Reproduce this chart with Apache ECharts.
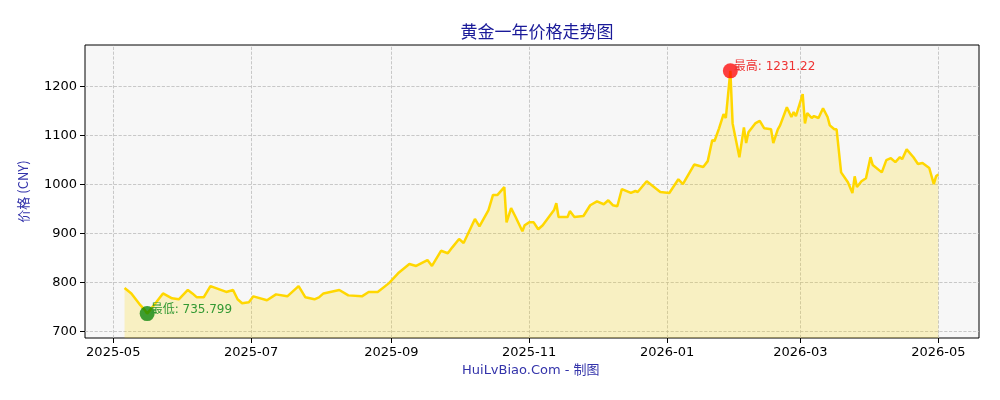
<!DOCTYPE html>
<html><head><meta charset="utf-8">
<script src="https://cdn.jsdelivr.net/npm/echarts@6/dist/echarts.min.js"></script>
<style>html,body{margin:0;padding:0;background:#fff}#c{width:1000px;height:400px}</style>
</head><body><div id="c"></div>
<script>
const dates = ["2025-05-06","2025-05-09","2025-05-13","2025-05-15","2025-05-16","2025-05-20","2025-05-23","2025-05-27","2025-05-30","2025-06-03","2025-06-05","2025-06-07","2025-06-10","2025-06-13","2025-06-20","2025-06-23","2025-06-25","2025-06-27","2025-06-30","2025-07-02","2025-07-08","2025-07-12","2025-07-17","2025-07-22","2025-07-25","2025-07-29","2025-07-31","2025-08-02","2025-08-09","2025-08-13","2025-08-19","2025-08-22","2025-08-26","2025-08-31","2025-09-04","2025-09-09","2025-09-12","2025-09-17","2025-09-19","2025-09-23","2025-09-26","2025-09-28","2025-10-01","2025-10-03","2025-10-08","2025-10-10","2025-10-14","2025-10-16","2025-10-18","2025-10-21","2025-10-22","2025-10-24","2025-10-26","2025-10-29","2025-10-30","2025-11-01","2025-11-03","2025-11-05","2025-11-07","2025-11-12","2025-11-13","2025-11-14","2025-11-18","2025-11-19","2025-11-21","2025-11-25","2025-11-28","2025-12-01","2025-12-04","2025-12-06","2025-12-08","2025-12-10","2025-12-12","2025-12-16","2025-12-18","2025-12-19","2025-12-23","2025-12-29","2026-01-02","2026-01-06","2026-01-08","2026-01-13","2026-01-17","2026-01-19","2026-01-21","2026-01-22","2026-01-24","2026-01-26","2026-01-27","2026-01-29","2026-01-30","2026-02-02","2026-02-04","2026-02-05","2026-02-06","2026-02-09","2026-02-11","2026-02-13","2026-02-16","2026-02-17","2026-02-19","2026-02-20","2026-02-23","2026-02-25","2026-02-26","2026-02-27","2026-03-02","2026-03-03","2026-03-04","2026-03-06","2026-03-07","2026-03-09","2026-03-11","2026-03-13","2026-03-14","2026-03-16","2026-03-17","2026-03-19","2026-03-22","2026-03-24","2026-03-25","2026-03-26","2026-03-28","2026-03-30","2026-04-01","2026-04-02","2026-04-06","2026-04-08","2026-04-10","2026-04-12","2026-04-14","2026-04-15","2026-04-17","2026-04-20","2026-04-22","2026-04-24","2026-04-27","2026-04-29","2026-04-30","2026-05-01"];
const prices = [788,777,753,743,735.799,759,777,767,765,784,777,769,769,792,780,784,765,757,759,771,763,775,771,792,769,765,769,777,784,773,771,780,780,798,818,837,833,845,833,864,859,871,888,880,929,914,947,978,978,994,922,951,933,904,916,922,922,908,916,947,961,933,933,945,933,935,957,965,959,967,957,955,990,982,986,984,1006,984,982,1010,1000,1040,1035,1047,1090,1088,1114,1143,1135,1231.22,1124,1055,1116,1084,1106,1124,1129,1114,1112,1084,1112,1120,1157,1137,1147,1139,1184,1124,1145,1135,1139,1135,1155,1137,1120,1112,1112,1024,1004,982,1016,994,1006,1012,1055,1039,1024,1049,1053,1045,1055,1051,1071,1055,1041,1043,1033,1000,1016,1020];
const yTicks = [700,800,900,1000,1100,1200];
const xTicks = ["2025-05-01","2025-07-01","2025-09-01","2025-11-01","2026-01-01","2026-03-01","2026-05-01"];
const title = "黄金一年价格走势图";

const ts = s=>Date.UTC(+s.slice(0,4),+s.slice(5,7)-1,+s.slice(8,10));
const data = dates.map((d,i)=>[ts(d),prices[i]]);
let iMax=0,iMin=0;
prices.forEach((v,i)=>{if(v>prices[iMax])iMax=i;if(v<prices[iMin])iMin=i;});
const xT = xTicks.map(ts);
const fmt = v=>{const d=new Date(v);return d.getUTCFullYear()+'-'+String(d.getUTCMonth()+1).padStart(2,'0');};
const grid = {type:'dashed',color:'#bbbbbb',width:0.8};
const chart = echarts.init(document.getElementById('c'));
chart.setOption({
  animation:false,
  textStyle:{fontFamily:'DejaVu Sans, Noto Sans CJK SC'},
  title:{text:title,left:532,top:18,textAlign:'center',textStyle:{color:'#1a1a99',fontSize:17,fontWeight:'normal',fontFamily:'Noto Sans CJK SC'}},
  graphic:[{type:'text',left:462,top:364,style:{text:'HuiLvBiao.Com - 制图',fill:'#3333aa',font:'13px "DejaVu Sans","Noto Sans CJK SC"'}}],
  grid:{left:85,right:21,top:45,bottom:62,show:true,backgroundColor:'#f7f7f7',borderColor:'#000',borderWidth:1},
  xAxis:{type:'value',min:ts('2025-04-18')+43200000,max:ts('2026-05-19'),
    axisLine:{show:false},splitLine:{show:false},
    axisTick:{customValues:xT,length:5,lineStyle:{color:'#000'}},
    axisLabel:{customValues:xT,color:'#000',fontSize:13,margin:8,formatter:fmt}},
  yAxis:{type:'value',min:686,max:1284,name:'价格 (CNY)',nameLocation:'middle',nameGap:55,
    nameTextStyle:{color:'#3333aa',fontSize:13,fontFamily:'Noto Sans CJK SC'},
    axisLine:{show:false},splitLine:{show:false},
    axisTick:{show:true,customValues:yTicks,length:5,lineStyle:{color:'#000'}},
    axisLabel:{customValues:yTicks,color:'#000',fontSize:13,formatter:v=>String(v)}},
  series:[{type:'line',data:data,showSymbol:false,
    lineStyle:{color:'#FFD700',width:2.5},
    areaStyle:{color:'rgba(255,215,0,0.3)',origin:'start'},
    markLine:{silent:true,symbol:'none',label:{show:false},lineStyle:grid,z:1,
      data:yTicks.map(v=>({yAxis:v})).concat(xT.map(v=>({xAxis:v})))},
    markPoint:{data:[
      {coord:data[iMax],symbol:'circle',symbolSize:15,itemStyle:{color:'rgba(255,0,0,0.75)'},
       label:{show:true,position:'right',distance:-4,offset:[0,-4],color:'#ee3333',fontSize:12,formatter:'最高: '+prices[iMax]}},
      {coord:data[iMin],symbol:'circle',symbolSize:15,itemStyle:{color:'rgba(0,128,0,0.75)'},
       label:{show:true,position:'right',distance:-4,offset:[0,-4],color:'#339933',fontSize:12,formatter:'最低: '+prices[iMin]}}
    ]}
  }]
});
</script></body></html>
